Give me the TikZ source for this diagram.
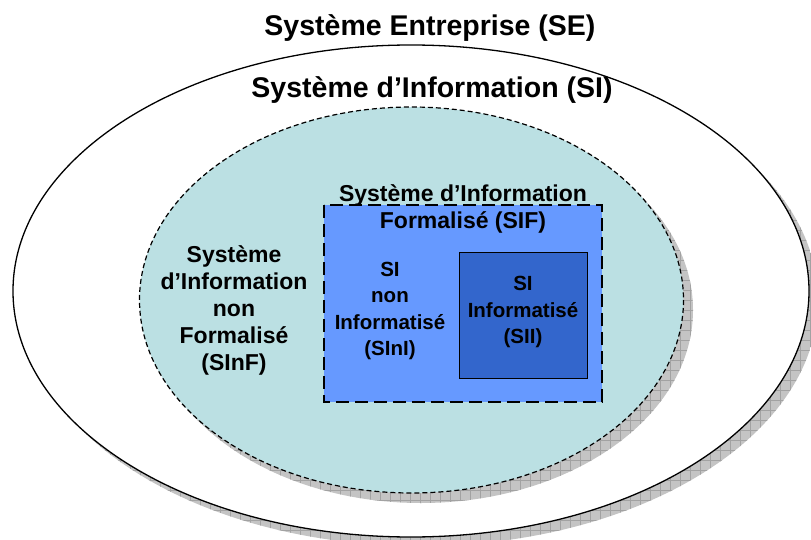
\documentclass[tikz,border=0pt]{standalone}
\usepackage{fontspec}
\setmainfont{Liberation Sans}
\definecolor{sishadow}{HTML}{C4C4C4}
\definecolor{sigrid}{HTML}{A2A2A2}
\definecolor{sifill}{HTML}{BBE0E3}
\definecolor{siffill}{HTML}{6699FF}
\definecolor{siifill}{HTML}{3366CC}
\tikzset{
  title/.style={font=\bfseries\fontsize{28.5}{32}\selectfont, inner sep=0pt},
  label/.style={font=\bfseries\fontsize{23}{27}\selectfont, align=center, inner sep=0pt},
  smalllabel/.style={font=\bfseries\fontsize{20.5}{26.5}\selectfont, align=center, inner sep=0pt},
}
\newcommand{\hatchshadow}[4]{%
  \begin{scope}
    \clip (#1,#2) ellipse [x radius=#3, y radius=#4];
    \fill[sishadow] (0,0) rectangle (811,540);
    \draw[sigrid, line width=0.6pt, step=10pt] (0,0) grid (820,550);
  \end{scope}}
\begin{document}
\begin{tikzpicture}[x=1pt, y=-1pt]
  \useasboundingbox (0,0) rectangle (811,540);
  \clip (0,0) rectangle (811,540);
  \fill[white] (0,0) rectangle (811,540);

  % enterprise system, with its shadow
  \hatchshadow{420}{300}{398}{246}
  \draw[fill=white, line width=1.3pt] (411,291) ellipse [x radius=398, y radius=246];

  % information system, with its shadow
  \hatchshadow{421}{310}{272}{193}
  \draw[fill=sifill, line width=1.2pt, dash pattern=on 5pt off 3pt]
    (411.5,300) ellipse [x radius=272, y radius=193];

  % formalised information system
  \fill[siffill] (324,205) rectangle (602,402);
  \draw[line width=2.8pt, dash pattern=on 13pt off 6pt] (324,205) rectangle (602,402);

  % computerised information system
  \draw[fill=siifill, line width=0.9pt] (459,252) rectangle (587,378);

  % labels
  \node[title] (se) at (430,28) {Système Entreprise (SE)};
  \node[title] (si) at (432,90) {Système d’Information (SI)};
  \node[label] (sif) at (463,208.5) {Système d’Information\\Formalisé (SIF)};
  \node[label] (sinf) at (234,310) {Système\\d’Information\\non\\Formalisé\\(SInF)};
  \node[smalllabel] (sini) at (390,311) {SI\\non\\Informatisé\\(SInI)};
  \node[smalllabel] (sii) at (523,312) {SI\\Informatisé\\(SII)};
\end{tikzpicture}
\end{document}
